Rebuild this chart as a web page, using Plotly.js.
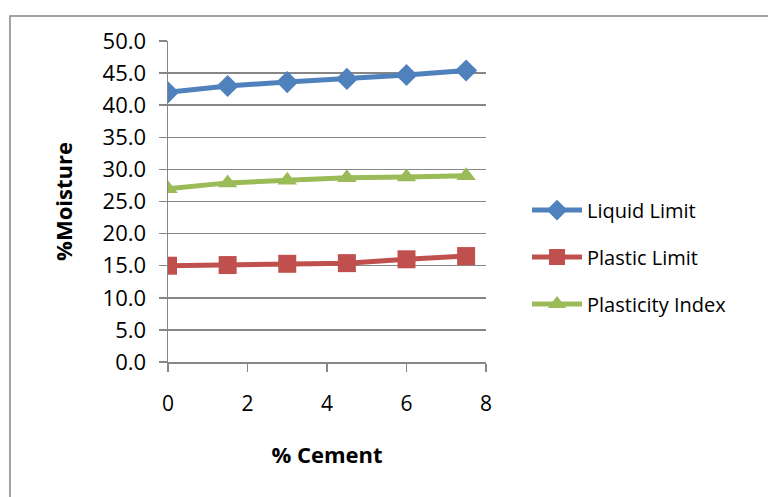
<!DOCTYPE html>
<html>
<head>
<meta charset="utf-8">
<script src="https://cdn.plot.ly/plotly-3.0.1.min.js"></script>
<style>html,body{margin:0;padding:0;background:#fff;}#chart{width:768px;height:497px;}</style>
</head>
<body>
<div id="chart"></div>
<script>
const cementPct = [0, 1.5, 3, 4.5, 6, 7.5];
const liquidLimit = [42.0, 43.0, 43.6, 44.1, 44.7, 45.4];
const plasticLimit = [15.0, 15.1, 15.3, 15.4, 16.0, 16.5];
const plasticityIndex = [27.0, 27.9, 28.3, 28.7, 28.8, 29.0];
const seriesNames = ["Liquid Limit", "Plastic Limit", "Plasticity Index"];

const FONT = "'Open Sans', sans-serif";

const traces = [
  {x: cementPct, y: liquidLimit, name: seriesNames[0], legendgroup: 'a', mode: 'lines+markers',
   line: {color: '#4F81BD', width: 5}, marker: {symbol: 'diamond', size: 17, color: '#4F81BD'}},
  {x: cementPct, y: plasticLimit, name: seriesNames[1], legendgroup: 'b', mode: 'lines+markers',
   line: {color: '#C0504D', width: 5}, marker: {symbol: 'square', size: 18, color: '#C0504D'}},
  {x: cementPct, y: plasticityIndex, name: seriesNames[2], legendgroup: 'c', mode: 'lines+markers',
   line: {color: '#9BBB59', width: 5}, marker: {symbol: 'triangle-up', size: 17, color: '#9BBB59'}}
];

const layout = {
  width: 768, height: 497,
  margin: {l: 168, r: 282, t: 41, b: 135},
  paper_bgcolor: '#fff', plot_bgcolor: '#fff',
  font: {family: FONT, size: 18, color: '#000'},
  showlegend: true,
  legend: {x: 1.129, y: 0.327, xanchor: 'left', yanchor: 'middle', traceorder: 'grouped',
           tracegroupgap: 18, itemwidth: 50, font: {family: FONT, size: 20, color: '#000'}, bgcolor: 'rgba(0,0,0,0)'},
  xaxis: {range: [0, 8], dtick: 2, tick0: 0, showgrid: false, zeroline: false,
          showline: true, linecolor: '#868686', linewidth: 1.5,
          ticks: 'outside', ticklen: 8, tickcolor: '#868686', tickwidth: 1.5,
          ticklabelstandoff: 14, tickfont: {family: FONT, size: 21},
          title: {text: '% Cement', font: {family: FONT, size: 22, weight: 'bold'}, standoff: 32}},
  yaxis: {range: [0, 50], dtick: 5, tick0: 0, tickformat: '.1f',
          showgrid: true, gridcolor: '#868686', gridwidth: 1.5, zeroline: false,
          showline: true, linecolor: '#868686', linewidth: 1.5,
          ticks: 'outside', ticklen: 8, tickcolor: '#868686', tickwidth: 1.5,
          ticklabelstandoff: 8, tickfont: {family: FONT, size: 22},
          title: {text: '%Moisture', font: {family: FONT, size: 22, weight: 'bold'}, standoff: 24}},
  shapes: [{type: 'rect', xref: 'paper', yref: 'paper', x0: -0.497, x1: 1.9, y0: -0.45, y1: 1.078,
            line: {color: '#868686', width: 1.5}, fillcolor: 'rgba(0,0,0,0)', layer: 'below'}]
};

Plotly.newPlot('chart', traces, layout, {displayModeBar: false, staticPlot: true});
</script>
</body>
</html>
